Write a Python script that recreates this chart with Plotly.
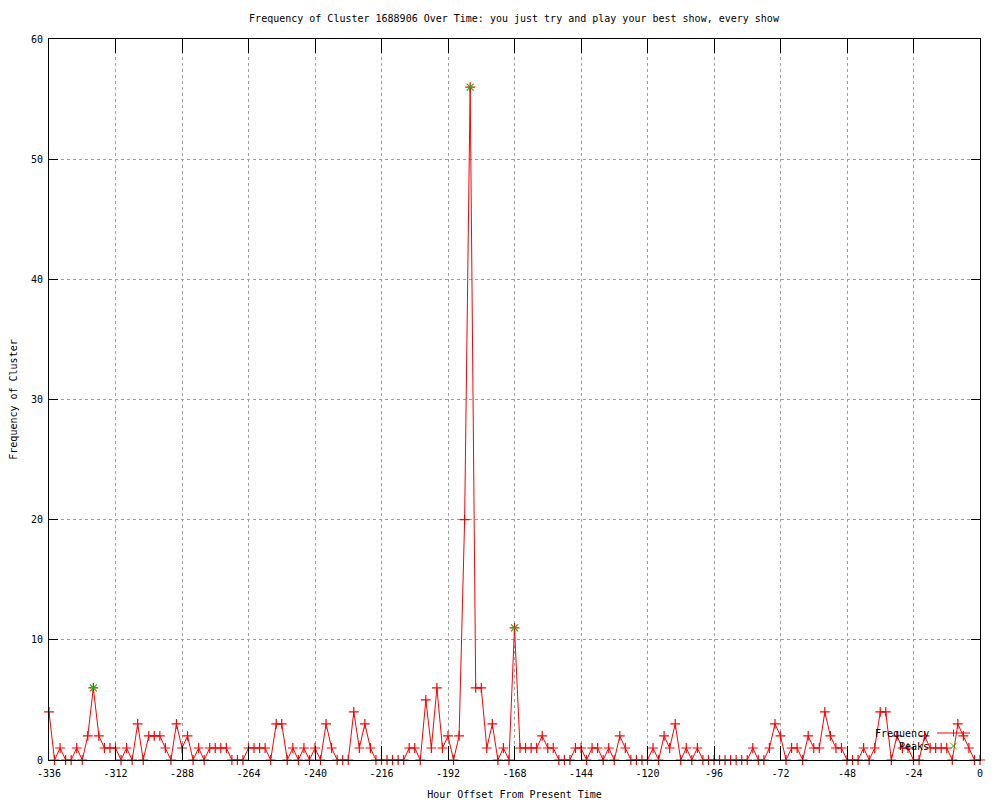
import plotly.graph_objects as go

hours = list(range(-336, 1, 2))
frequency = [
    4, 0, 1, 0, 0, 1, 0, 2, 6, 2, 1, 1, 1, 0, 1, 0, 3, 0, 2, 2, 2, 1, 0, 3, 1, 2, 0, 1,
    0, 1, 1, 1, 1, 0, 0, 0, 1, 1, 1, 1, 0, 3, 3, 0, 1, 0, 1, 0, 1, 0, 3, 1, 0, 0, 0,
    4, 1, 3, 1, 0, 0, 0, 0, 0, 0, 1, 1, 0, 5, 1, 6, 1, 2, 0, 2, 20, 56, 6, 6, 1, 3, 0,
    1, 0, 11, 1, 1, 1, 1, 2, 1, 1, 0, 0, 0, 1, 1, 0, 1, 1, 0, 1, 0, 2, 1, 0, 0, 0, 0,
    1, 0, 2, 1, 3, 0, 1, 0, 1, 0, 0, 0, 0, 0, 0, 0, 0, 0, 1, 0, 0, 1, 3, 2, 0, 1, 1,
    0, 2, 1, 1, 4, 2, 1, 1, 0, 0, 0, 1, 0, 1, 4, 4, 0, 2, 1, 1, 0, 0, 2, 1, 1, 1, 1, 0, 3, 2, 1, 0, 0,
]
peak_hours = [-320, -184, -168]
peak_values = [6, 56, 11]

x_ticks = list(range(-336, 1, 24))
y_ticks = list(range(0, 61, 10))

FONT = "DejaVu Sans Mono"
RED = "#ff0000"
GREEN = "#00c000"

fig = go.Figure()
fig.add_trace(go.Scatter(
    x=hours, y=frequency, mode="lines+markers", name="Frequency",
    line=dict(color=RED, width=1),
    marker=dict(symbol="cross-thin", size=7, line=dict(color=RED, width=1.2)),
    cliponaxis=False, showlegend=False,
))
fig.add_trace(go.Scatter(
    x=peak_hours, y=peak_values, mode="markers", name="Peaks",
    marker=dict(symbol="x-thin", size=7, line=dict(color=GREEN, width=1.2)),
    cliponaxis=False, showlegend=False,
))

OFF = 8  # page body margin
W, H = 1000, 800
L, R, T, B = 49 - OFF, 1000 - 980 + OFF, 39 - OFF, 800 - 760 + OFF
pw, ph = W - L - R, H - T - B

def px(x):
    return (x - OFF - L) / pw

def py(y):
    return (H - B - (y - OFF)) / ph

fig.update_layout(
    width=W, height=H,
    margin=dict(l=L, r=R, t=T, b=B),
    paper_bgcolor="white", plot_bgcolor="white",
    font=dict(family=FONT, size=10, color="black"),
    title=dict(
        text="Frequency of Cluster 1688906 Over Time: you just try and play your best show, every show",
        x=(514 - OFF) / W, xanchor="center", y=1 - (18 - OFF) / H, yanchor="middle",
        font=dict(family=FONT, size=10, color="black"),
    ),
    xaxis=dict(
        range=[-336, 0], tickvals=x_ticks, ticktext=[str(v) for v in x_ticks],
        showgrid=True, gridcolor="#a0a0a0", griddash="dot", gridwidth=1,
        zeroline=False, showline=True, linecolor="black", linewidth=1, mirror="ticks",
        ticks="inside", ticklen=14, tickcolor="black", ticklabelstandoff=4,
        title=dict(text="Hour Offset From Present Time", standoff=12,
                   font=dict(family=FONT, size=10)),
        automargin=False,
    ),
    yaxis=dict(
        range=[0, 60], tickvals=y_ticks,
        showgrid=True, gridcolor="#a0a0a0", griddash="dot", gridwidth=1,
        zeroline=False, showline=True, linecolor="black", linewidth=1, mirror="ticks",
        ticks="inside", ticklen=9, tickcolor="black", ticklabelstandoff=3,
        title=dict(text="Frequency of Cluster", standoff=12,
                   font=dict(family=FONT, size=10)),
        automargin=False,
    ),
)

# gnuplot-style key: text on left, sample on right
fig.add_annotation(x=px(931), y=py(733), xref="paper", yref="paper", text="Frequency",
                   showarrow=False, xanchor="right", yanchor="middle",
                   font=dict(family=FONT, size=10, color="black"))
fig.add_annotation(x=px(931), y=py(746), xref="paper", yref="paper", text="Peaks",
                   showarrow=False, xanchor="right", yanchor="middle",
                   font=dict(family=FONT, size=10, color="black"))
fig.add_shape(type="line", xref="paper", yref="paper",
              x0=px(937), x1=px(970), y0=py(733), y1=py(733),
              line=dict(color=RED, width=1))
fig.add_shape(type="line", xref="paper", yref="paper",
              x0=px(953.5), x1=px(953.5), y0=py(729.5), y1=py(736.5),
              line=dict(color=RED, width=1))
fig.add_shape(type="line", xref="paper", yref="paper",
              x0=px(950), x1=px(957), y0=py(742.5), y1=py(749.5),
              line=dict(color=GREEN, width=1))
fig.add_shape(type="line", xref="paper", yref="paper",
              x0=px(950), x1=px(957), y0=py(749.5), y1=py(742.5),
              line=dict(color=GREEN, width=1))

fig.write_html("out.html")
